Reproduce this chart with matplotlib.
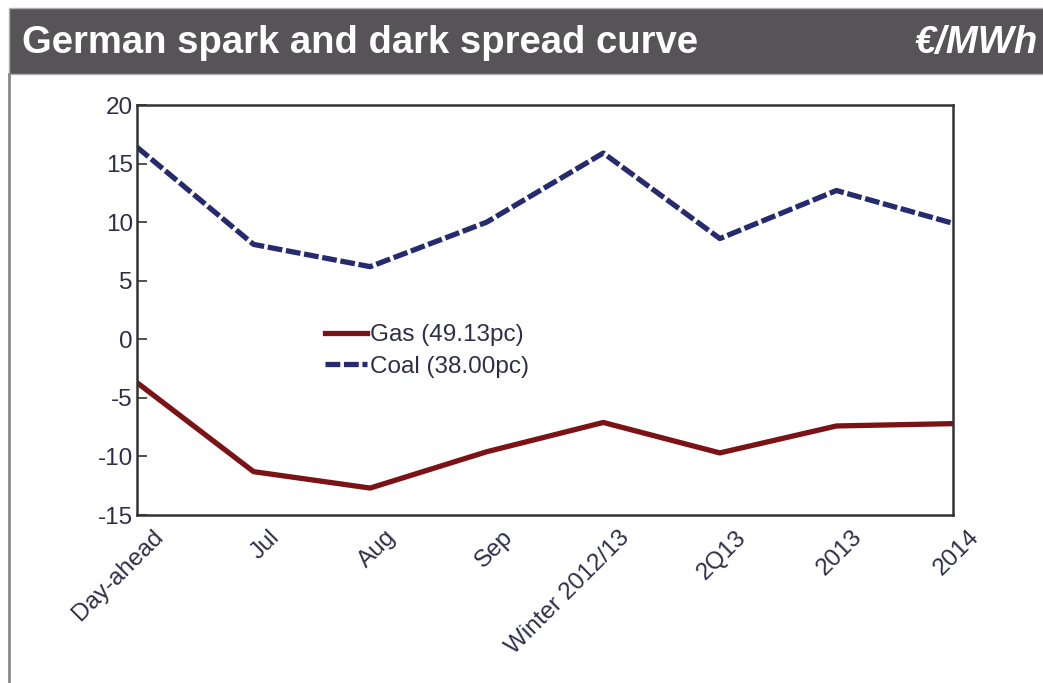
import matplotlib
matplotlib.use("Agg")
import matplotlib.pyplot as plt
import matplotlib.transforms as mtransforms
from matplotlib.patches import Rectangle
from matplotlib.lines import Line2D

periods = ["Day-ahead", "Jul", "Aug", "Sep", "Winter 2012/13", "2Q13", "2013", "2014"]
gas = [-3.7, -11.3, -12.7, -9.6, -7.1, -9.7, -7.4, -7.2]
coal = [16.4, 8.1, 6.2, 10.0, 15.9, 8.6, 12.7, 9.9]

plt.rcParams["font.family"] = ["Liberation Sans", "DejaVu Sans"]
plt.rcParams["axes.unicode_minus"] = False

W, H = 1043, 683
fig = plt.figure(figsize=(W / 100, H / 100), dpi=100)

# header bar
fig.patches.append(Rectangle((9 / W, 1 - 74 / H), 1, 66 / H, transform=fig.transFigure,
                             facecolor="#565456", edgecolor="#b0b0b0", linewidth=1, zorder=0))
fig.add_artist(Line2D([9 / W, 9 / W], [0, 1 - 74 / H], transform=fig.transFigure,
                      color="#888888", linewidth=2))
fig.text(22 / W, 1 - 43 / H, "German spark and dark spread curve", color="white",
         fontsize=27.5, fontweight="bold", va="center", ha="left")
fig.text(914 / W, 1 - 43 / H, "€/MWh", color="white", fontsize=27.5,
         fontweight="bold", fontstyle="italic", va="center", ha="left")

ax = fig.add_axes([137 / W, 1 - 515 / H, (953 - 137) / W, 410 / H])
x = range(len(periods))
ax.plot(x, gas, color="#7a1216", linewidth=3.8, label="Gas (49.13pc)")
ax.plot(x, coal, color="#262a6e", linewidth=3.8, dashes=(2.8, 0.7), label="Coal (38.00pc)")

ax.set_xlim(0, len(periods) - 1)
ax.set_ylim(-15, 20)
ax.set_yticks(range(-15, 21, 5))
ax.set_xticks(list(x))
ax.set_xticklabels(periods, rotation=45, ha="right", va="top", rotation_mode="anchor")
ax.tick_params(axis="both", labelsize=17.5, labelcolor="#2e2e48", color="#333333",
               direction="in", length=7, width=1.2)
ax.tick_params(axis="y", pad=3)
ax.tick_params(axis="x", length=0, pad=8)
shift = mtransforms.ScaledTranslation(15 / 100, 0, fig.dpi_scale_trans)
for lbl in ax.get_xticklabels():
    lbl.set_transform(lbl.get_transform() + shift)
for s in ax.spines.values():
    s.set_linewidth(1.8)
    s.set_color("#333333")

ax.legend(loc="upper left", bbox_to_anchor=(0.23, 0.465), frameon=False, fontsize=17.5,
          handlelength=1.75, handletextpad=0.1, labelspacing=0.38, borderpad=0,
          borderaxespad=0, labelcolor="#2e2e48")

fig.savefig("out.png", dpi=100)
plt.close(fig)
